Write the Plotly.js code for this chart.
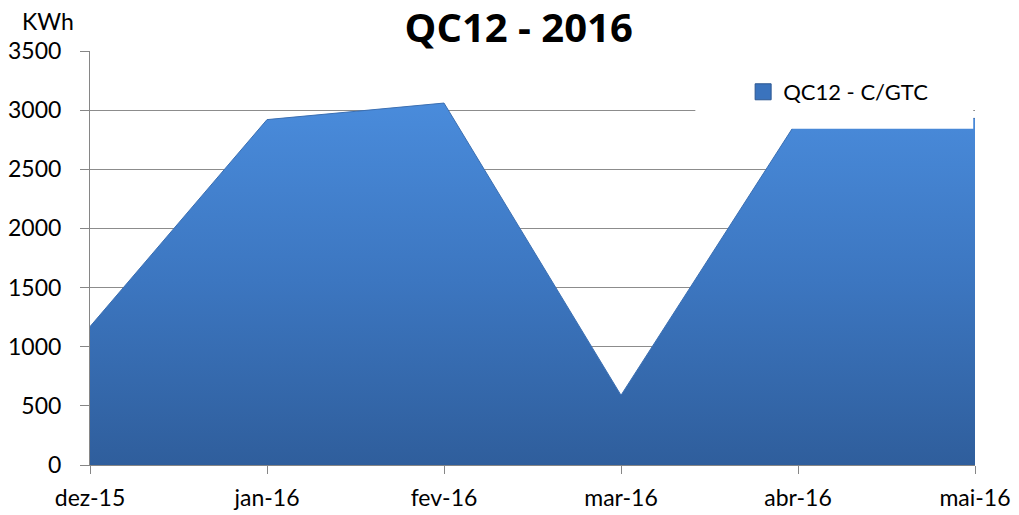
<!DOCTYPE html>
<html>
<head>
<meta charset="utf-8">
<script src="https://cdn.plot.ly/plotly-3.0.1.min.js"></script>
<style>html,body{margin:0;padding:0;background:#fff;}#chart{width:1019px;height:515px;}</style>
</head>
<body>
<div id="chart"></div>
<script>
const categories = ["dez-15", "jan-16", "fev-16", "mar-16", "abr-16", "mai-16"];
const seriesName = "QC12 - C/GTC";
const values = [1170, 2920, 3060, 590, 2920, 2930];
const yTicks = [0, 500, 1000, 1500, 2000, 2500, 3000, 3500];

const FONT = "Lato, Carlito, 'Open Sans', sans-serif";
const TITLE_FONT = "'Open Sans', Lato, sans-serif";

const areaTrace = {
  type: "scatter",
  mode: "lines",
  x: categories,
  y: values,
  name: seriesName,
  fill: "tozeroy",
  line: {color: "#3B6FB2", width: 1},
  fillgradient: {
    type: "vertical",
    start: 0,
    stop: 3100,
    colorscale: [[0, "#2F5E9C"], [0.5, "#3C76C0"], [1, "#4A8CDC"]]
  },
  showlegend: false,
  hoverinfo: "x+y"
};

// legend-only entry so the swatch is a square like the reference
const legendTrace = {
  type: "scatter",
  mode: "markers",
  x: [null],
  y: [null],
  name: seriesName,
  marker: {symbol: "square", size: 16, color: "#3A73BD", line: {color: "#2B5791", width: 1}},
  showlegend: true,
  hoverinfo: "skip"
};

const layout = {
  width: 1019,
  height: 515,
  paper_bgcolor: "#ffffff",
  plot_bgcolor: "#ffffff",
  margin: {l: 90, r: 44, t: 51, b: 50},
  font: {family: FONT, size: 23, color: "#000"},
  title: {
    text: "<b>QC12 - 2016</b>",
    font: {family: TITLE_FONT, size: 40, color: "#000"},
    x: 0.509, xanchor: "center",
    y: 0.945, yanchor: "middle"
  },
  xaxis: {
    type: "category",
    range: [0, 5],
    showgrid: false,
    showline: true,
    linecolor: "#868686",
    linewidth: 1,
    ticks: "outside",
    ticklen: 8,
    tickcolor: "#868686",
    ticklabelstandoff: 4,
    tickfont: {family: FONT, size: 23, color: "#000"},
    zeroline: false,
    fixedrange: true
  },
  yaxis: {
    range: [0, 3500],
    tickvals: yTicks,
    ticktext: yTicks.map(String),
    showgrid: true,
    gridcolor: "#8C8C8C",
    gridwidth: 1,
    showline: true,
    linecolor: "#868686",
    ticks: "outside",
    ticklen: 9,
    tickcolor: "#868686",
    ticklabelstandoff: 14,
    tickfont: {family: FONT, size: 23, color: "#000"},
    zeroline: false,
    fixedrange: true
  },
  shapes: [{
    type: "rect", xref: "paper", yref: "paper",
    x0: 0.684, x1: 0.998, y0: 0.812, y1: 0.978,
    fillcolor: "#ffffff", line: {width: 0}, layer: "above"
  }],
  legend: {
    x: 0.738, y: 0.901, xanchor: "left", yanchor: "middle",
    bgcolor: "rgba(255,255,255,0)",
    font: {family: FONT, size: 22, color: "#000"},
    itemwidth: 30
  },
  annotations: [{
    text: "KWh",
    xref: "paper", yref: "paper",
    x: -0.048, y: 1.072, xanchor: "center", yanchor: "middle",
    showarrow: false,
    font: {family: FONT, size: 23, color: "#000"}
  }]
};

Plotly.newPlot("chart", [areaTrace, legendTrace], layout, {displayModeBar: false, staticPlot: true});
</script>
</body>
</html>
